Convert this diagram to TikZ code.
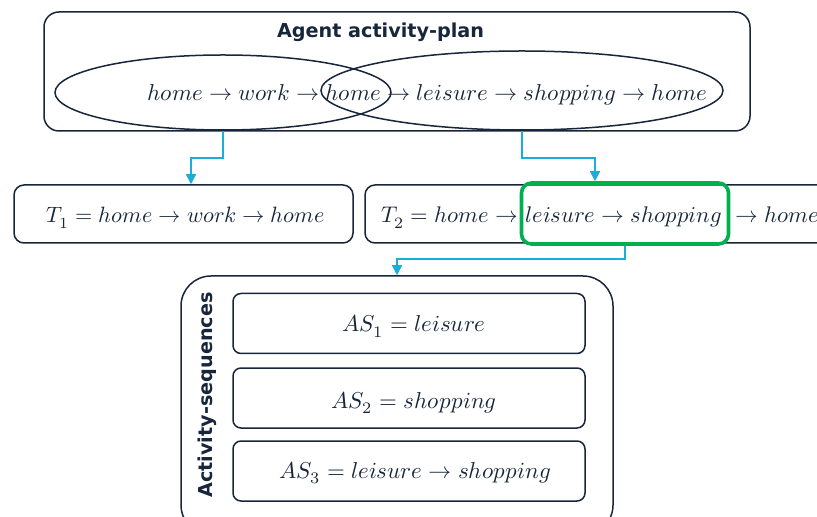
\documentclass[tikz,border=0pt]{standalone}
\usepackage{fontspec}
\usepackage{unicode-math}
\newfontfamily\labfont{DejaVu Sans}
\usetikzlibrary{shapes.geometric,arrows.meta}
\definecolor{navy}{HTML}{17263A}
\definecolor{cyanarr}{HTML}{1AAFD6}
\definecolor{hlgreen}{HTML}{00B050}
\tikzset{
  box/.style={draw=navy,line width=0.75pt,rounded corners=5pt,inner sep=0pt},
  oval/.style={draw=navy,line width=0.75pt,ellipse,inner sep=0pt},
  mathtxt/.style={text=navy,inner sep=0pt,font=\fontsize{11.5}{14}\selectfont},
  triptxt/.style={mathtxt,font=\fontsize{11.1}{14}\selectfont},
  trip2txt/.style={mathtxt,font=\fontsize{11.3}{14}\selectfont},
  heading/.style={text=navy,inner sep=0pt,font=\labfont\bfseries\fontsize{9.6}{11}\selectfont},
  arr/.style={draw=cyanarr,line width=0.75pt,-{Triangle[width=5pt,length=5pt]}},
  hl/.style={draw=hlgreen,line width=1.8pt,rounded corners=5pt,inner sep=0pt}
}
\begin{document}
\begin{tikzpicture}[x=0.5pt,y=-0.5pt]
\useasboundingbox (0,0) rectangle (817,517);
\clip (0,0) rectangle (817,517);
% top box
\node[box,rounded corners=7.5pt,minimum width=353pt,minimum height=59.5pt] (plan) at (397,71.5) {};
\node[heading] (title) at (380.5,32) {Agent activity-plan};
\node[oval,minimum width=168pt,minimum height=37.5pt] (e1) at (223,92.5) {};
\node[oval,minimum width=201pt,minimum height=39.5pt] (e2) at (522,90.5) {};
\node[mathtxt,anchor=base] (seq) at (427.5,101) {$home\rightarrow work\rightarrow home\rightarrow leisure\rightarrow shopping\rightarrow home$};
% trips
\node[box,minimum width=169.5pt,minimum height=29pt] (t1) at (183.5,214) {};
\node[triptxt,anchor=base] (t1txt) at (185.5,223) {$T_1 = home\rightarrow work\rightarrow home$};
\node[box,minimum width=242.5pt,minimum height=29pt] (t2) at (607.5,214) {};
\node[trip2txt,anchor=base west] (t2txt) at (381,223) {$T_2 = home\rightarrow\mkern1mu leisure\rightarrow shopping\mkern6mu\rightarrow home$};
\node[hl,minimum width=103.5pt,minimum height=30.5pt] (green) at (625,213.5) {};
% activity sequences
\node[box,rounded corners=15pt,minimum width=216pt,minimum height=129.5pt] (asbox) at (397,405.5) {};
\node[heading,rotate=90] (aslab) at (207,395) {Activity-sequences};
\node[box,rounded corners=4pt,minimum width=176pt,minimum height=30pt] (as1) at (409,323.5) {};
\node[box,rounded corners=4pt,minimum width=176pt,minimum height=30pt] (as2) at (409,398) {};
\node[box,rounded corners=4pt,minimum width=176pt,minimum height=30pt] (as3) at (409,471) {};
\node[mathtxt,anchor=base] (as1txt) at (414,332) {$AS_1 = leisure$};
\node[mathtxt,anchor=base] (as2txt) at (414,408) {$AS_2 = shopping$};
\node[mathtxt,anchor=base] (as3txt) at (415,478) {$AS_3 = leisure\rightarrow shopping$};
% connectors
\coordinate (k1) at (191,158);
\coordinate (k2) at (595,158);
\coordinate (k3) at (397,259);
\draw[arr] (e1.south) |- (k1) -- (k1 |- t1.north);
\draw[arr] (e2.south) |- (k2) -- (k2 |- green.north);
\draw[arr] (green.south) |- (k3) -- (k3 |- asbox.north);
\end{tikzpicture}
\end{document}
